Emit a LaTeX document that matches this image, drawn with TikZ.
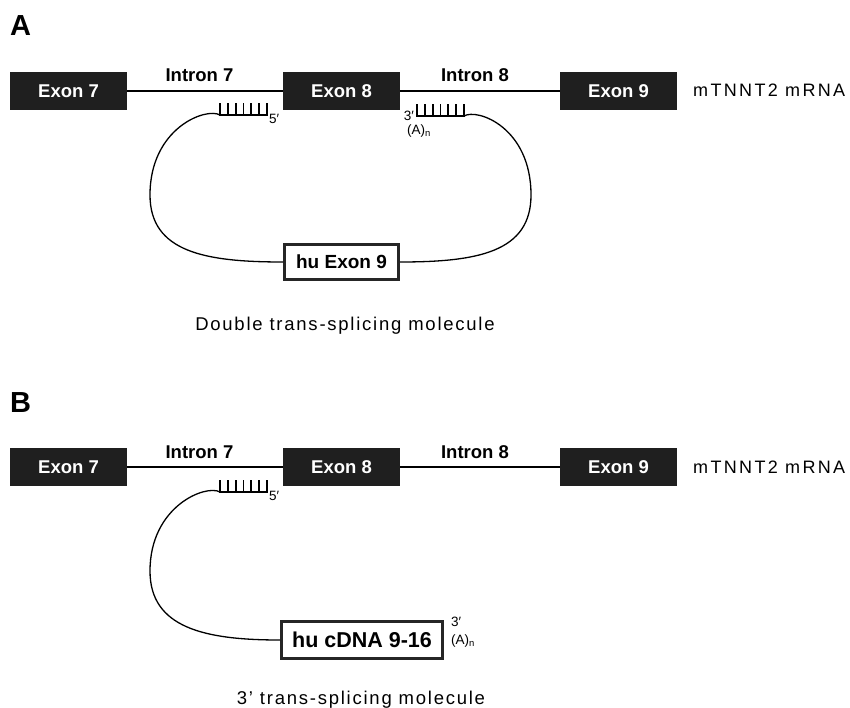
\documentclass[tikz,border=0pt]{standalone}
\usepackage{fontspec}
\setmainfont{Liberation Sans}
\usetikzlibrary{positioning}
\newcommand{\antisense}[1]{%
  \draw[teeth] (#1) -- ++(47,0);
  \foreach \k in {0,...,6} \draw[teeth] (#1) ++(\k*7.8,0) -- ++(0,-11);}

\begin{document}
\begin{tikzpicture}[x=1pt,y=-1pt,
exon/.style={rectangle,fill=black!88,text=white,inner sep=0pt,minimum width=117pt,minimum height=38pt,font=\fontsize{18.5}{20}\selectfont\bfseries},
hubox/.style={rectangle,draw=black!85,line width=2.6pt,fill=white,inner sep=0pt,font=\fontsize{19}{21}\selectfont\bfseries},
intronlbl/.style={anchor=base,inner sep=0pt,font=\fontsize{18.5}{20}\selectfont\bfseries},
spaced/.style={inner sep=0pt,font=\fontsize{18.5}{20}\selectfont\addfontfeature{LetterSpace=9.5}},
mrnalbl/.style={anchor=base west,inner sep=0pt,font=\fontsize{18}{20}\selectfont\addfontfeature{LetterSpace=13}},
panel/.style={anchor=west,inner sep=0pt,font=\fontsize{29}{30}\selectfont\bfseries},
endlbl/.style={inner sep=0pt,font=\fontsize{13.5}{14}\selectfont},
rna/.style={line width=2pt},
tether/.style={line width=1.3pt},
teeth/.style={line width=1.8pt,line cap=rect}]

\useasboundingbox (0,0) rectangle (850,708);

% A: double trans-splicing
\node[panel](panel-a) at (10,26){A};

\node[exon](exon-7) at (68.5,91){Exon 7};
\node[exon](exon-8) at (341.5,91){Exon 8};
\node[exon](exon-9) at (618.5,91){Exon 9};
\draw[rna] (exon-7)--(exon-8);
\draw[rna] (exon-8)--(exon-9);
\node[intronlbl](intron-7) at (199.5,82){Intron 7};
\node[intronlbl](intron-8) at (475,82){Intron 8};
\node[mrnalbl](mrna) at (693,97){mTNNT2 mRNA};

\coordinate (five-a) at (220,115);
\coordinate (three-a) at (417,116);
\coordinate (three-a-end) at (464,116);
\antisense{five-a}
\antisense{three-a}
\node[endlbl,anchor=west](five-a-lbl) at (269,119){5′};
\node[endlbl,anchor=east](three-a-lbl) at (414,116){3′};
\node[endlbl,anchor=west](polya-a) at (407,131){(A)\textsubscript{n}};

\node[hubox,minimum width=114.4pt,minimum height=35.4pt](hu-exon) at (341.5,262){hu Exon 9};
\draw[tether] (five-a) .. controls (206,107) and (150,128) .. (150,195) .. controls (150,252) and (205,262) .. (hu-exon.west);
\draw[tether] (three-a-end) .. controls (478,108) and (531,128) .. (531,195) .. controls (531,252) and (478,262) .. (hu-exon.east);

\node[spaced,anchor=base](caption-a) at (345,330){Double trans-splicing molecule};

% B: 3' trans-splicing
\begin{scope}[yshift=-376pt]
\node[panel](panel-b) at (10,27){B};

\node[exon](exon-7) at (68.5,91){Exon 7};
\node[exon](exon-8) at (341.5,91){Exon 8};
\node[exon](exon-9) at (618.5,91){Exon 9};
\draw[rna] (exon-7)--(exon-8);
\draw[rna] (exon-8)--(exon-9);
\node[intronlbl](intron-7) at (199.5,82){Intron 7};
\node[intronlbl](intron-8) at (475,82){Intron 8};
\node[mrnalbl](mrna) at (693,97){mTNNT2 mRNA};

\coordinate (five-b) at (220,116);
\antisense{five-b}
\node[endlbl,anchor=west](five-b-lbl) at (269,120){5′};

\node[hubox,minimum width=161.4pt,minimum height=37.4pt,font=\fontsize{21.5}{23}\selectfont\bfseries](hu-cdna) at (362,264){hu cDNA 9-16};
\node[endlbl,anchor=west](three-b-lbl) at (451,246){3′};
\node[endlbl,anchor=west](polya-b) at (451,265){(A)\textsubscript{n}};
\draw[tether] (five-b) .. controls (206,108) and (150,130) .. (150,195) .. controls (150,252) and (205,264) .. (hu-cdna.west);

\node[spaced,anchor=base](caption-b) at (361,328){3\textquoteright{} trans-splicing molecule};
\end{scope}
\end{tikzpicture}
\end{document}
